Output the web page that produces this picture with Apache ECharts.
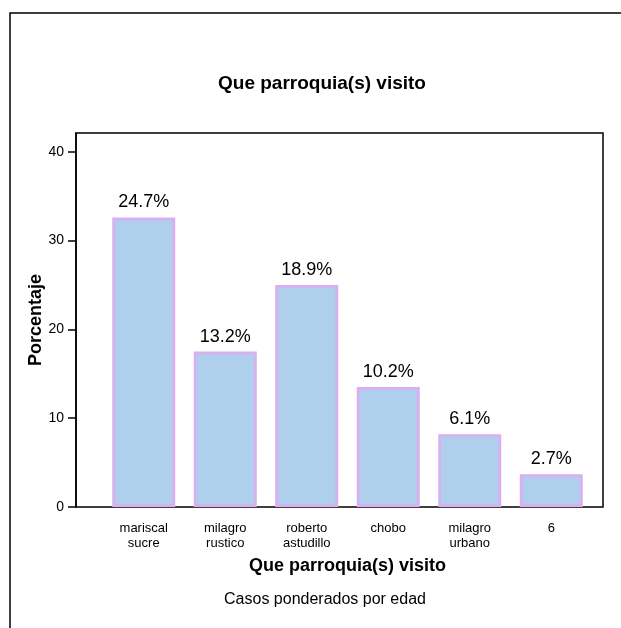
<!DOCTYPE html>
<html>
<head>
<meta charset="utf-8">
<script src="https://cdn.jsdelivr.net/npm/echarts@6/dist/echarts.min.js"></script>
<style>
  html, body { margin: 0; padding: 0; background: #fff; }
  #chart { width: 621px; height: 628px; }
</style>
</head>
<body>
<div id="chart"></div>
<script>
var categories = ['mariscal\nsucre', 'milagro\nrustico', 'roberto\nastudillo', 'chobo', 'milagro\nurbano', '6'];
var percentValues = [32.6, 17.5, 25.0, 13.5, 8.2, 3.7];
var barLabels = ['24.7%', '13.2%', '18.9%', '10.2%', '6.1%', '2.7%'];
var yTicks = [0, 10, 20, 30, 40];

var dom = document.getElementById('chart');
var chart = echarts.init(dom);
var font = 'Liberation Sans, Arial, sans-serif';

var option = {
  backgroundColor: '#fff',
  animation: false,
  title: {
    text: 'Que parroquia(s) visito',
    left: 213,
    top: 69,
    textStyle: { fontFamily: font, fontSize: 19, fontWeight: 'bold', color: '#000' }
  },
  graphic: [
    {
      type: 'rect',
      shape: { x: 10, y: 13, width: 700, height: 700 },
      style: { fill: 'none', stroke: '#000', lineWidth: 1.5 },
      silent: true
    },
    {
      type: 'rect',
      shape: { x: 76, y: 133, width: 527, height: 374 },
      style: { fill: 'none', stroke: '#000', lineWidth: 1.5 },
      z: 1,
      silent: true
    },
    {
      // y axis title
      type: 'text',
      x: 36,
      y: 320,
      rotation: Math.PI / 2,
      style: {
        text: 'Porcentaje', fontFamily: font, fontSize: 18, fontWeight: 'bold', fill: '#000',
        align: 'center', verticalAlign: 'middle'
      }
    },
    {
      type: 'text',
      x: 325,
      y: 600,
      style: {
        text: 'Casos ponderados por edad', fontFamily: font, fontSize: 16, fill: '#000',
        align: 'center', verticalAlign: 'middle'
      }
    }
  ],
  grid: { left: 103, right: 29, top: 133, bottom: 121 },
  xAxis: {
    type: 'category',
    data: categories,
    name: 'Que parroquia(s) visito',
    nameLocation: 'middle',
    nameGap: 50,
    nameTextStyle: { fontFamily: font, fontSize: 18, fontWeight: 'bold', color: '#000' },
    axisLine: { show: false },
    axisTick: { alignWithLabel: true, length: 8, lineStyle: { color: '#000', width: 1.5 } },
    axisLabel: { fontFamily: font, fontSize: 13, color: '#000', margin: 14, lineHeight: 15, interval: 0 }
  },
  yAxis: {
    type: 'value',
    min: 0,
    max: 42.1,
    interval: 10,
    offset: 27,
    splitLine: { show: false },
    axisLine: { show: true, lineStyle: { color: '#000', width: 1.5 } },
    axisTick: { show: true, length: 8, lineStyle: { color: '#000', width: 1.5 } },
    axisLabel: {
      fontFamily: font, fontSize: 14, color: '#000', margin: 12,
      showMaxLabel: false,
      formatter: function (v) { return yTicks.indexOf(v) >= 0 ? String(v) : ''; }
    }
  },
  series: [
    {
      type: 'bar',
      data: percentValues,
      barWidth: 63,
      z: 2,
      itemStyle: { color: '#afd0ec', borderColor: '#d8b0f0', borderWidth: 3 },
      label: {
        show: true,
        position: 'top',
        distance: 6,
        fontFamily: font,
        fontSize: 18,
        color: '#000',
        formatter: function (p) { return barLabels[p.dataIndex]; }
      }
    }
  ]
};
chart.setOption(option);
</script>
</body>
</html>
